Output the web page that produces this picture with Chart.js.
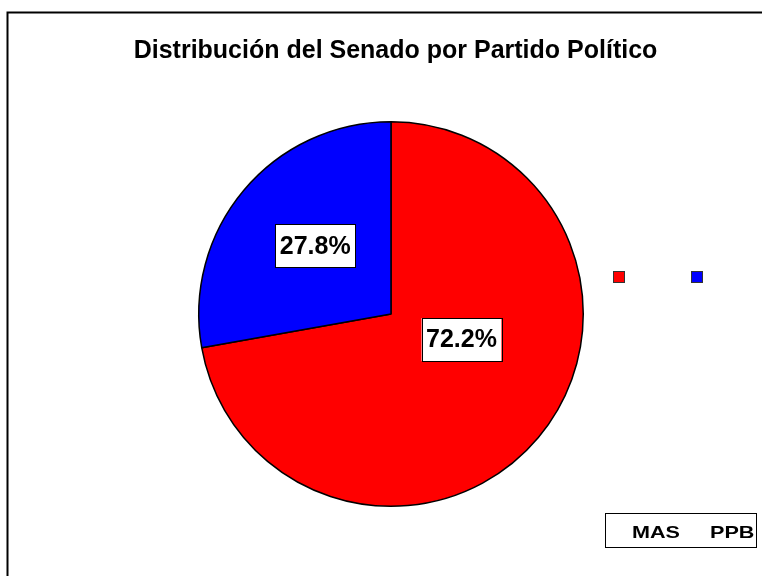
<!DOCTYPE html>
<html>
<head>
<meta charset="utf-8">
<script src="https://cdn.jsdelivr.net/npm/chart.js@4/dist/chart.umd.min.js"></script>
<style>
  html, body { margin: 0; padding: 0; background: #fff; }
  #wrap { width: 762px; height: 576px; position: relative; }
</style>
</head>
<body>
<div id="wrap"><canvas id="senadoChart" width="762" height="576"></canvas></div>
<script>
const partidos = ['MAS', 'PPB'];
const porcentajes = [72.2, 27.8];
const colores = ['#ff0000', '#0000ff'];
const titulo = 'Distribución del Senado por Partido Político';

const FONT = '"Liberation Sans", Arial, sans-serif';

// frame, title, legend and value boxes drawn on top of the pie
const adornos = {
    id: 'adornos',
    afterDraw(chart, args, opts) {
        const ctx = chart.ctx;
        const meta = chart.getDatasetMeta(0);
        ctx.save();

        // outer frame (left and top edges only)
        ctx.strokeStyle = '#000';
        ctx.lineWidth = 2;
        ctx.beginPath();
        ctx.moveTo(7.5, 576);
        ctx.lineTo(7.5, 12.5);
        ctx.lineTo(762, 12.5);
        ctx.stroke();

        // title
        ctx.fillStyle = '#000';
        ctx.font = 'bold 25px ' + FONT;
        ctx.textAlign = 'center';
        ctx.textBaseline = 'alphabetic';
        ctx.fillText(titulo, 395.5, 58);

        // value labels in white boxes
        ctx.font = 'bold 25px ' + FONT;
        ctx.textBaseline = 'middle';
        meta.data.forEach((arc, i) => {
            const o = opts.etiquetas[i];
            const mid = (arc.startAngle + arc.endAngle) / 2 + o.giro * Math.PI / 180;
            const r = arc.outerRadius * o.frac;
            const x = arc.x + Math.cos(mid) * r;
            const y = arc.y + Math.sin(mid) * r;
            const txt = porcentajes[i].toFixed(1) + '%';
            const w = ctx.measureText(txt).width + 9;
            const h = 43;
            ctx.fillStyle = '#fff';
            ctx.fillRect(x - w / 2, y - h / 2, w, h);
            ctx.strokeStyle = '#000';
            ctx.lineWidth = 1;
            ctx.strokeRect(Math.round(x - w / 2) + 0.5, Math.round(y - h / 2) + 0.5, Math.round(w), h);
            ctx.fillStyle = '#000';
            ctx.fillText(txt, x, y + 1);
        });

        // legend swatches
        partidos.forEach((p, i) => {
            const sx = 613 + i * 78;
            ctx.fillStyle = colores[i];
            ctx.fillRect(sx, 271, 12, 12);
            ctx.strokeStyle = '#333';
            ctx.lineWidth = 1;
            ctx.strokeRect(sx + 0.5, 271.5, 11, 11);
        });

        // legend names box
        ctx.strokeStyle = '#000';
        ctx.lineWidth = 1;
        ctx.strokeRect(605.5, 513.5, 151, 34);
        ctx.fillStyle = '#000';
        ctx.font = 'bold 17px ' + FONT;
        ctx.textAlign = 'left';
        ctx.textBaseline = 'alphabetic';
        partidos.forEach((p, i) => {
            ctx.save();
            ctx.translate(632 + i * 78, 538);
            ctx.scale(1.27, 1);
            ctx.fillText(p, 0, 0);
            ctx.restore();
        });

        ctx.restore();
    }
};

const ctx = document.getElementById('senadoChart').getContext('2d');
const senadoChart = new Chart(ctx, {
    type: 'pie',
    data: {
        labels: partidos,
        datasets: [{
            data: porcentajes,
            backgroundColor: colores,
            borderColor: '#000',
            borderWidth: 1.5
        }]
    },
    options: {
        responsive: false,
        animation: false,
        layout: {
            padding: { top: 121, bottom: 69, left: 198, right: 178 }
        },
        plugins: {
            legend: { display: false },
            tooltip: { enabled: false },
            adornos: {
                etiquetas: [
                    { frac: 0.39, giro: -20 },
                    { frac: 0.53, giro: 2 }
                ]
            }
        }
    },
    plugins: [adornos]
});
</script>
</body>
</html>
